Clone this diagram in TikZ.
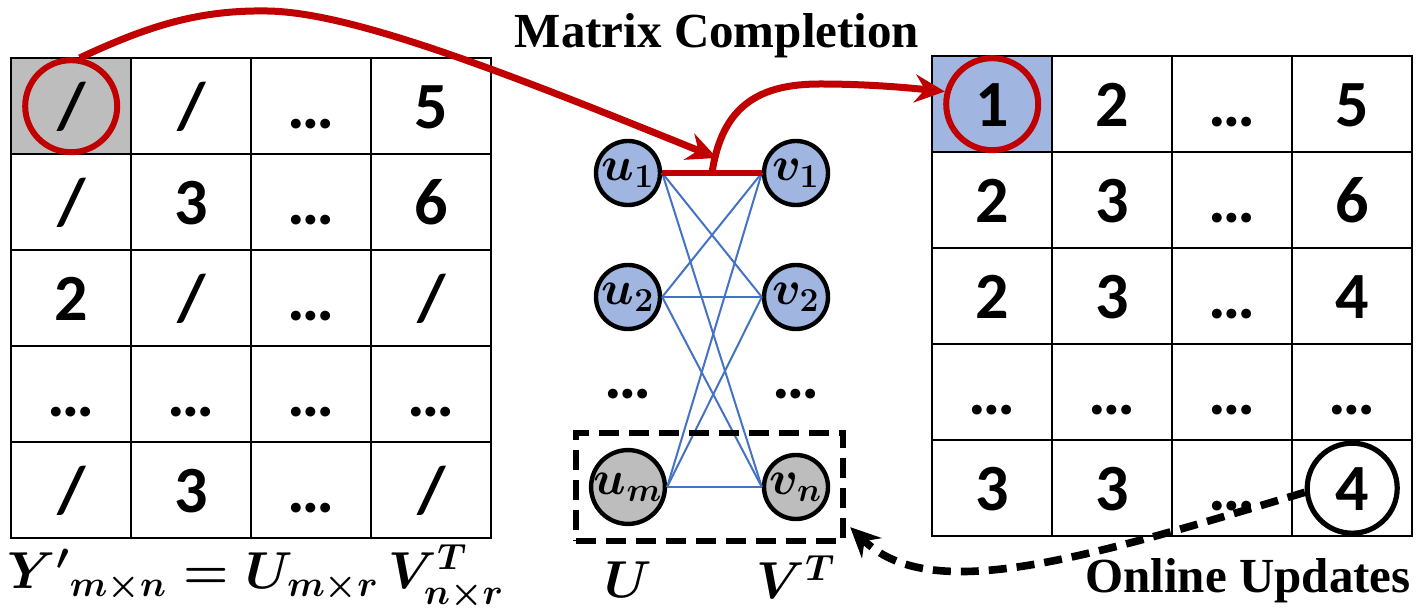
\RequirePackage{fix-cm}
\documentclass[tikz,border=0pt]{standalone}
\usepackage{amsmath}
\usepackage{fontspec}
\setmainfont{Liberation Serif}
\newfontfamily\cellfont{Carlito}
\usetikzlibrary{arrows.meta,positioning,fit,calc,backgrounds}
\definecolor{pickred}{HTML}{C00000}
\definecolor{cellblue}{HTML}{A0B6E0}
\definecolor{cellgray}{HTML}{BEBDBE}
\definecolor{edgeblue}{HTML}{4472C4}
\tikzset{
  cell/.style={draw=black,line width=1.2pt,minimum width=60pt,minimum height=48pt,inner sep=0pt,anchor=north west,text height=22pt,text depth=0pt,font=\cellfont\bfseries\fontsize{33}{36}\selectfont},
  gap/.style={inner sep=0pt,anchor=base,font=\cellfont\bfseries\fontsize{33}{36}\selectfont},
  factor/.style={circle,draw=black,line width=2.2pt,minimum size=32pt,inner sep=0pt,fill=cellblue,font=\fontsize{24}{26}\selectfont},
  newfactor/.style={factor,fill=cellgray},
  pickring/.style={circle,draw=pickred,line width=3pt,minimum size=46pt,inner sep=0pt},
  newring/.style={circle,draw=black,line width=2.6pt,minimum size=45pt,inner sep=0pt},
  bipart/.style={draw=edgeblue,line width=1pt},
  pickline/.style={draw=pickred,line width=2.8pt},
  pickflow/.style={-{Stealth[length=15pt,width=14pt,inset=5pt]},draw=pickred,line width=3.5pt},
  updflow/.style={-{Stealth[length=15pt,width=14pt,inset=5pt]},draw=black,line width=3.8pt,dash pattern=on 9pt off 5pt},
  updbox/.style={draw=black,line width=3pt,dash pattern=on 10pt off 5pt,inner xsep=6.5pt,inner ysep=7.5pt},
  title/.style={font=\bfseries\fontsize{24.5}{28}\selectfont,inner sep=0pt},
  formula/.style={font=\fontsize{26}{29}\selectfont,inner sep=0pt}
}

\begin{document}
\begin{tikzpicture}[x=0.5pt,y=-0.5pt]
  \useasboundingbox (0,0) rectangle (1418,613);
  % observed matrix Y'
  \foreach \row [count=\r] in {{/,/,\textellipsis,5},{/,3,\textellipsis,6},{2,/,\textellipsis,/},{\textellipsis,\textellipsis,\textellipsis,\textellipsis},{/,3,\textellipsis,/}}
    \foreach \val [count=\c] in \row
      \node[cell] (L-\r-\c) at ({10+120*(\c-1)},{57+96*(\r-1)}) {\val};
  % completed matrix
  \foreach \row [count=\r] in {{1,2,\textellipsis,5},{2,3,\textellipsis,6},{2,3,\textellipsis,4},{\textellipsis,\textellipsis,\textellipsis,\textellipsis},{3,3,\textellipsis,4}}
    \foreach \val [count=\c] in \row
      \node[cell] (R-\r-\c) at ({931+120*(\c-1)},{55+96*(\r-1)}) {\val};
  \begin{scope}[on background layer]
    \fill[cellgray] (L-1-1.north west) rectangle (L-1-1.south east);
    \fill[cellblue] (R-1-1.north west) rectangle (R-1-1.south east);
  \end{scope}
  \node[pickring] (pickL) at (L-1-1) {};
  \node[pickring] (pickR) at (R-1-1) {};
  \node[newring] (newval) at (R-5-4) {};

  % factor nodes
  \node[factor] (u1) at (628,173) {$\boldsymbol{u_1}$};
  \node[factor] (v1) at (796,173) {$\boldsymbol{v_1}$};
  \node[factor] (u2) at (628,297) {$\boldsymbol{u_2}$};
  \node[factor] (v2) at (796,297) {$\boldsymbol{v_2}$};
  \node[gap] (udots) at (628,399) {\textellipsis};
  \node[gap] (vdots) at (796,399) {\textellipsis};
  \node[newfactor] (um) at (628,487) {$\boldsymbol{u_m}$};
  \node[newfactor] (vn) at (796,487) {$\boldsymbol{v_n}$};
  \foreach \a in {u1,u2,um}
    \foreach \b in {v1,v2,vn}
      \draw[bipart] (\a.east) -- (\b.west);
  \draw[pickline] (u1.east) -- (v1.west);
  \node[updbox,fit=(um)(vn)] (upd) {};

  \coordinate (join) at ($(u1.east)!0.5!(v1.west)$);
  \coordinate (hit) at ($(join)+(5,-15)$);
  \coordinate (tip) at ($(upd.south east)+(4,-17)$);
  \draw[pickflow] (pickL.80) .. controls (150,25) and (200,10) .. (267,11) .. controls (350,12) and (500,70) .. (hit);
  \draw[pickflow] (join) .. controls (722,105) and (760,84) .. (820,84) .. controls (870,84) and (910,88) .. (pickR.165);
  \draw[updflow] (newval.185) .. controls (1080,560) and (930,605) .. (tip);

  % labels
  \node[title] (mc) at (717,36) {Matrix Completion};
  \node[title] (ou) at (1248,581) {Online Updates};
  \node[formula] (eq) at (256,577) {$\boldsymbol{{Y'}_{m\times n}=U_{m\times r}\,V^{T}_{n\times r}}$};
  \node[formula] (ulab) at (628,580) {$\boldsymbol{U}$};
  \node[formula] (vlab) at (796,577) {$\boldsymbol{V^{T}}$};
\end{tikzpicture}
\end{document}
